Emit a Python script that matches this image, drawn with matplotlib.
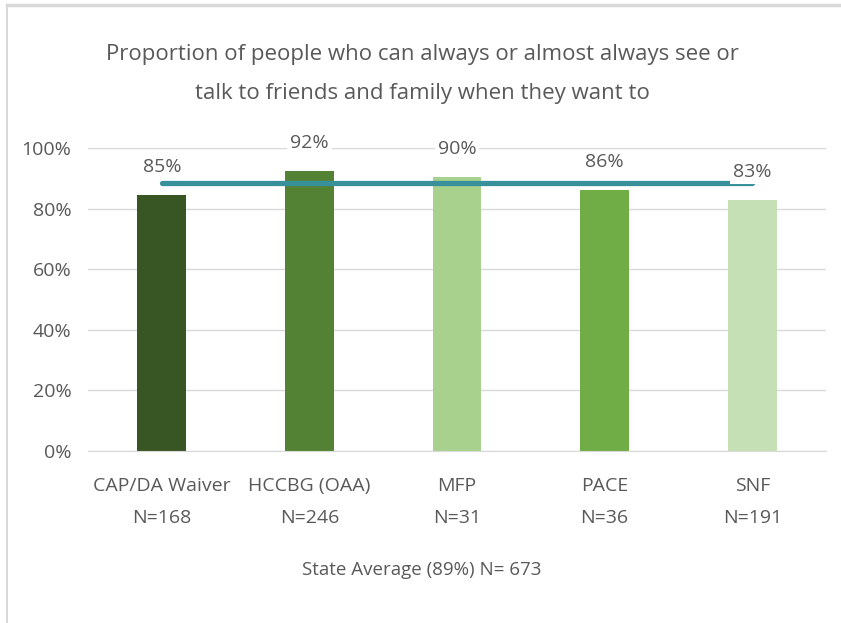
import matplotlib
matplotlib.use("Agg")
import matplotlib.pyplot as plt
from matplotlib.lines import Line2D

plt.rcParams['font.family'] = ['Open Sans', 'DejaVu Sans']

categories = ["CAP/DA Waiver", "HCCBG (OAA)", "MFP", "PACE", "SNF"]
n_values = [168, 246, 31, 36, 191]
values = [0.846, 0.923, 0.904, 0.861, 0.827]
labels = ["85%", "92%", "90%", "86%", "83%"]
state_avg = 0.885
colors = ["#375623", "#548235", "#A9D18E", "#70AD47", "#C5E0B4"]
yticks = [0, 0.2, 0.4, 0.6, 0.8, 1.0]
ytick_labels = ["0%", "20%", "40%", "60%", "80%", "100%"]

W, H = 841, 623
fig = plt.figure(figsize=(W/100, H/100), dpi=100)
ax = fig.add_axes([88/W, 1-451/H, (826-88)/W, (451-148)/H])

x = list(range(len(categories)))
ax.bar(x, values, width=0.33, color=colors, zorder=2)
ax.plot([x[0], x[-1]], [state_avg]*2, color="#37909A", lw=3.8, solid_capstyle='round', zorder=3)

for xi, v, lab in zip(x, values, labels):
    ax.annotate(lab, (xi, v), xytext=(0, 28), textcoords='offset pixels',
                ha='center', va='center', fontsize=14, color='#595959', zorder=4,
                bbox=dict(boxstyle='square,pad=0.15', fc='white', ec='none'))

ax.set_xlim(-0.5, len(categories)-0.5)
ax.set_ylim(0, 1.0)
ax.set_yticks(yticks)
ax.set_yticklabels(ytick_labels)
ax.set_xticks(x)
ax.set_xticklabels([f"{c}\nN={n}" for c, n in zip(categories, n_values)], linespacing=2.0)
ax.tick_params(axis='both', length=0, labelsize=14, labelcolor='#595959')
ax.tick_params(axis='x', pad=19)
ax.tick_params(axis='y', pad=12)
ax.grid(axis='y', color='#D9D9D9', lw=1, zorder=0)
ax.set_axisbelow(True)
for s in ['top', 'right', 'left']:
    ax.spines[s].set_visible(False)
ax.spines['bottom'].set_color('#D9D9D9')

fig.text(422/W, 1-570/H, "State Average (89%) N= 673", ha='center', va='center',
         fontsize=13.5, color='#595959')

fig.text(422/W, 1-74/H, "Proportion of people who can always or almost always see or\ntalk to friends and family when they want to",
         ha='center', va='center', fontsize=16, color='#595959', linespacing=2.1)

fig.add_artist(Line2D([7/W, 1], [1-5/H, 1-5/H], color='#D9D9D9', lw=2.5))
fig.add_artist(Line2D([7/W, 7/W], [0, 1-5/H], color='#D9D9D9', lw=1.5))

fig.savefig("out.png", dpi=100, facecolor='white')
